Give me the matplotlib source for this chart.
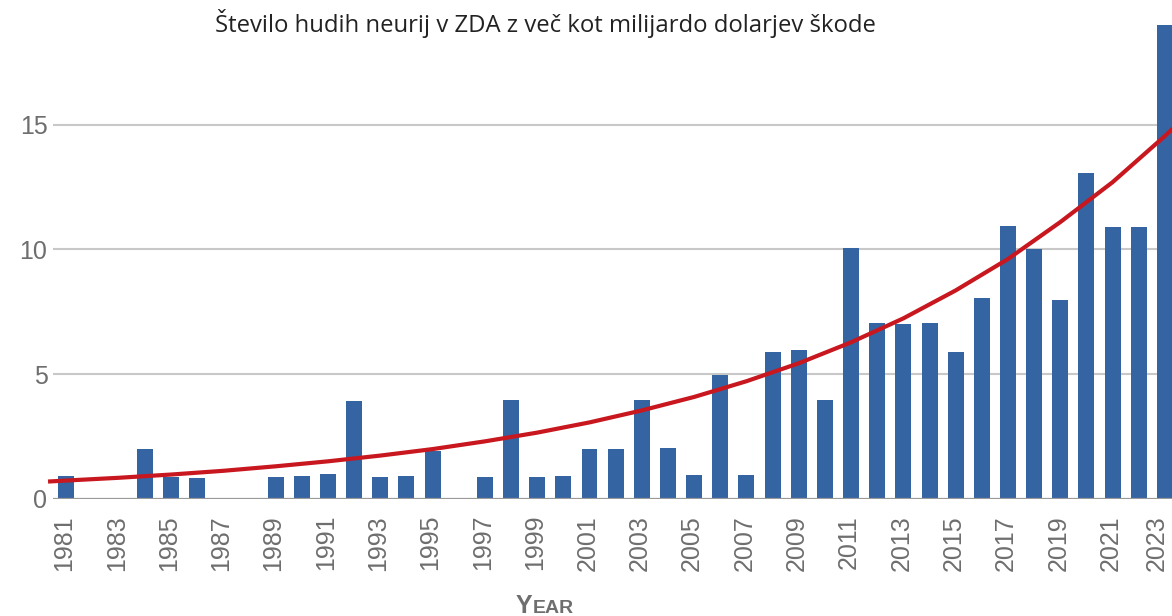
import numpy as np
import matplotlib.pyplot as plt
import matplotlib.transforms as mtransforms

# number of billion-dollar disasters per year
years = list(range(1981, 2024))
counts = [0.93, 0, 0, 2.0, 0.9, 0.83, 0, 0, 0.87, 0.93,
          0.99, 3.93, 0.87, 0.93, 1.94, 0, 0.87, 3.97, 0.87, 0.92,
          1.99, 1.99, 3.97, 2.05, 0.97, 4.95, 0.97, 5.9, 5.98, 3.97,
          10.05, 7.05, 7.0, 7.05, 5.88, 8.07, 10.95, 10.03, 7.98, 13.06,
          10.92, 10.92, 18.98]

# red trend curve, read at the labelled years
trend_years = [1980.3, 1981, 1983, 1985, 1987, 1989, 1991, 1993, 1995, 1997, 1999,
               2001, 2003, 2005, 2007, 2009, 2011, 2013, 2015, 2017, 2019,
               2021, 2023, 2023.3]
trend_vals = [0.70, 0.74, 0.85, 0.98, 1.13, 1.31, 1.51, 1.74, 2.0, 2.31, 2.66,
              3.07, 3.55, 4.09, 4.72, 5.44, 6.28, 7.24, 8.36, 9.62, 11.1,
              12.7, 14.55, 14.85]

tick_years = years[::2]
title = 'Število hudih neurij v ZDA z več kot milijardo dolarjev škode'

gray = '#6e6e6e'
plt.rcParams['font.family'] = ['Liberation Sans', 'DejaVu Sans']

fig = plt.figure(figsize=(11.72, 6.16), dpi=100)
ax = fig.add_axes([53/1172, 117/616, 1 - 53/1172, 499/616])

ax.bar(years, counts, width=0.61, color='#3564a2', zorder=2)
ax.plot(trend_years, trend_vals, color='#c8171e', lw=3, zorder=3,
        solid_capstyle='butt', clip_on=False)

ax.set_xlim(1980.49, 2023.27)
ax.set_ylim(0, 20)
for v in [5, 10, 15]:
    ax.axhline(v, color='#c8c8c8', lw=1.5, zorder=1)
ax.axhline(0, color='#9a9a9a', lw=1.6, zorder=4)
ax.set_yticks([0, 5, 10, 15])
ax.set_xticks(tick_years)
ax.set_xticklabels([str(y) for y in tick_years], rotation=90)
ax.tick_params(axis='x', length=0, pad=11.5, labelsize=18, labelcolor=gray)
ax.tick_params(axis='y', length=0, pad=4, labelsize=18, labelcolor=gray)
for s in ax.spines.values():
    s.set_visible(False)

labels = ax.get_xticklabels()
for i, lab in enumerate(labels):
    dx = -8 if i == len(labels) - 1 else -2
    lab.set_transform(lab.get_transform() +
                      mtransforms.ScaledTranslation(dx/100, 0, fig.dpi_scale_trans))

fig.text(545/1172, 1 - 32/616, title, ha='center', va='baseline',
         fontsize=17.2, color='#222222', family=['Open Sans', 'DejaVu Sans'])

# small-caps style axis title
t1 = fig.text(516/1172, 1 - 613/616, 'Y', ha='left', va='baseline',
              fontsize=18, color=gray, fontweight='bold')
fig.canvas.draw()
bb = t1.get_window_extent()
fig.text(bb.x1/1172, 1 - 613/616, 'EAR', ha='left', va='baseline',
         fontsize=14, color=gray, fontweight='bold')

plt.savefig('out.png', dpi=100)
